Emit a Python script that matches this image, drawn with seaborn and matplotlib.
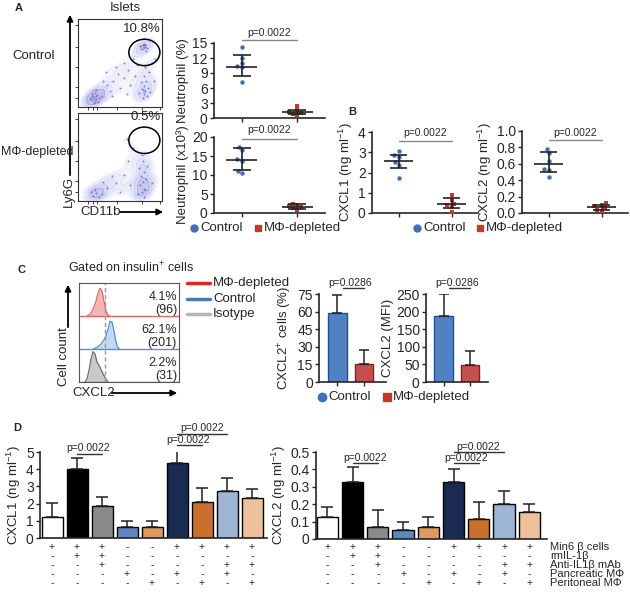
import pandas as pd
import seaborn as sns
import matplotlib.pyplot as plt
from matplotlib.patches import Ellipse, FancyArrowPatch
from matplotlib.lines import Line2D
from matplotlib.colors import LinearSegmentedColormap
from matplotlib.transforms import blended_transform_factory

sns.set_style("ticks")
plt.rcParams['font.family'] = ['Liberation Sans', 'DejaVu Sans']
plt.rcParams['mathtext.fontset'] = 'custom'
plt.rcParams['mathtext.rm'] = 'Liberation Sans'
plt.rcParams['mathtext.it'] = 'Liberation Sans:italic'

# ---- data ----
groups = ["Control", "MΦ-depleted"]
group_colors = ["#3f6fb5", "#c0392b"]

# panel A flow (CD11b vs Ly6G, box-normalised)
top_cd11b = [0.17, 0.19, 0.21, 0.20, 0.22, 0.18, 0.23, 0.16, 0.20, 0.25, 0.19, 0.24, 0.14, 0.21, 0.27, 0.17,
             0.78, 0.80, 0.82, 0.76, 0.79, 0.83, 0.77, 0.81, 0.78, 0.84, 0.75, 0.80, 0.86, 0.73,
             0.78, 0.80, 0.76, 0.82, 0.79, 0.77, 0.81, 0.74,
             0.35, 0.42, 0.48, 0.55, 0.60, 0.38, 0.50, 0.30, 0.62, 0.45, 0.65, 0.55, 0.68, 0.40, 0.58, 0.70,
             0.33, 0.90, 0.92, 0.88]
top_ly6g = [0.08, 0.10, 0.12, 0.07, 0.09, 0.13, 0.14, 0.11, 0.16, 0.10, 0.05, 0.06, 0.09, 0.19, 0.13, 0.15,
            0.15, 0.18, 0.12, 0.20, 0.24, 0.22, 0.10, 0.30, 0.35, 0.40, 0.28, 0.45, 0.17, 0.16,
            0.68, 0.70, 0.66, 0.67, 0.72, 0.70, 0.64, 0.69,
            0.25, 0.30, 0.38, 0.33, 0.42, 0.18, 0.22, 0.30, 0.25, 0.45, 0.55, 0.50, 0.35, 0.12, 0.15, 0.48,
            0.40, 0.30, 0.55, 0.50]
bot_cd11b = [0.76, 0.78, 0.74, 0.77, 0.80, 0.75, 0.79, 0.73, 0.77, 0.81, 0.72, 0.78, 0.82, 0.76,
             0.18, 0.22, 0.15, 0.25, 0.20, 0.28,
             0.35, 0.45, 0.55, 0.60, 0.50, 0.65, 0.40, 0.62, 0.88, 0.58, 0.30]
bot_ly6g = [0.10, 0.14, 0.18, 0.22, 0.12, 0.28, 0.33, 0.38, 0.45, 0.25, 0.08, 0.05, 0.40, 0.52,
            0.06, 0.09, 0.10, 0.05, 0.13, 0.08,
            0.15, 0.20, 0.30, 0.45, 0.10, 0.60, 0.28, 0.18, 0.20, 0.70, 0.22]

neut_pct_ctrl = [14.3, 12.0, 11.1, 10.5, 10.2, 7.3]
neut_pct_mac = [2.5, 1.6, 1.3, 1.1, 0.9, 0.7]
neut_pct_summary = [(10.3, 8.5, 12.7), (1.2, 0.9, 1.7)]
neut_cnt_ctrl = [17.5, 16.6, 14.2, 13.8, 11.0, 10.5]
neut_cnt_mac = [2.5, 2.2, 1.8, 1.5, 1.2, 0.9]
neut_cnt_summary = [(14.0, 11.2, 17.0), (1.7, 1.1, 2.3)]

# panel B
cxcl1_ctrl = [3.08, 2.85, 2.75, 2.5, 2.35, 1.75]
cxcl1_mac = [0.87, 0.65, 0.45, 0.38, 0.28, 0.05]
cxcl1_summary = [(2.58, 2.22, 2.85), (0.42, 0.26, 0.72)]
cxcl2_ctrl = [0.78, 0.73, 0.64, 0.54, 0.52, 0.44]
cxcl2_mac = [0.12, 0.10, 0.08, 0.06, 0.04, 0.03]
cxcl2_summary = [(0.60, 0.50, 0.74), (0.075, 0.04, 0.095)]

# panel C histograms (x = CXCL2 position in box, y = fraction of row)
hist_red_x = [8, 11, 14, 17, 19, 21, 23, 25, 27, 29, 31]
hist_red_y = [0, 0.05, 0.2, 0.45, 0.7, 0.84, 0.75, 0.45, 0.15, 0.02, 0]
hist_blue_x = [14, 18, 22, 25, 27, 29, 31, 33, 35, 37, 39, 41]
hist_blue_y = [0, 0.05, 0.15, 0.28, 0.4, 0.6, 0.84, 0.82, 0.55, 0.2, 0.03, 0]
hist_gray_x = [6, 8, 10, 12, 14, 16, 18, 21, 24, 27, 29]
hist_gray_y = [0, 0.1, 0.35, 0.7, 0.92, 0.85, 0.6, 0.45, 0.25, 0.08, 0]
hist_labels = [("4.1%", "(96)"), ("62.1%", "(201)"), ("2.2%", "(31)")]

cxcl2_pos_cells = [59, 15]
cxcl2_pos_err = [74, 27]
cxcl2_mfi = [188, 48]
cxcl2_mfi_err = [250, 87]

# panel D
conditions = ["Min6", "Min6+IL1b", "Min6+IL1b+mAb", "PanMΦ", "PerMΦ",
              "Min6+PanMΦ", "Min6+PerMΦ", "Min6+PanMΦ+mAb", "Min6+PerMΦ+mAb"]
d_colors = ["white", "black", "#8a8a8a", "#4f86d1", "#f39a4c",
            "#10285c", "#e56b12", "#95b3dc", "#f9c08f"]
d_cxcl1 = [1.25, 4.04, 1.87, 0.63, 0.63, 4.37, 2.08, 2.73, 2.31]
d_cxcl1_err = [2.02, 4.65, 2.37, 1.0, 0.96, 5.13, 2.88, 3.5, 2.85]
d_cxcl2 = [0.128, 0.328, 0.069, 0.052, 0.069, 0.328, 0.115, 0.20, 0.155]
d_cxcl2_err = [0.184, 0.414, 0.167, 0.098, 0.126, 0.402, 0.21, 0.275, 0.20]
table_rows = ["Min6 β cells", "rmIL-1β", "Anti-IL1β mAb", "Pancreatic MΦ", "Peritoneal MΦ"]
table_signs = ["+++--++++", "-++------", "--+----++", "---+-+-+-", "----+-+-+"]

# ---- figure ----
W, H = 630, 601
fig = plt.figure(figsize=(6.3, 6.01), dpi=100)


def px_axes(l, t, r, b):
    return fig.add_axes([l / W, 1 - b / H, (r - l) / W, (b - t) / H])


def ftext(x, y, s, **kw):
    kw.setdefault("fontsize", 9.5)
    fig.text(x / W, 1 - y / H, s, **kw)


def farrow(x0, y0, x1, y1):
    fig.add_artist(FancyArrowPatch((x0 / W, 1 - y0 / H), (x1 / W, 1 - y1 / H),
                                   transform=fig.transFigure, arrowstyle='-|>',
                                   mutation_scale=9, lw=1.3, color='black'))


def legend_row(y, x_ctrl, x_mac, msize=5):
    fig.add_artist(Line2D([x_ctrl / W], [1 - y / H], marker='o', ls='', markersize=msize,
                          color=group_colors[0], transform=fig.transFigure))
    ftext(x_ctrl + 6, y, "Control", va='center')
    fig.add_artist(Line2D([x_mac / W], [1 - y / H], marker='s', ls='', markersize=msize,
                          color=group_colors[1], transform=fig.transFigure))
    ftext(x_mac + 6, y, "MΦ-depleted", va='center')


def style_axes(ax):
    sns.despine(ax=ax)
    for s in ["left", "bottom"]:
        ax.spines[s].set_linewidth(1.2)
    ax.tick_params(labelsize=10, length=3, width=1, pad=1.5)
    ax.set_xlabel("")


def pval(ax, x0, x1, y, tx, ty, text="p=0.0022", lc="#888888"):
    ax.plot([x0, x1], [y, y], color=lc, lw=1, clip_on=False)
    ax.text(tx, ty, text, ha='center', va='bottom', fontsize=7.5)


cmap_top = LinearSegmentedColormap.from_list("flow_top", ["#ececfb", "#b3b6ee", "#6d72d8", "#c98a6a"])
cmap_bot = LinearSegmentedColormap.from_list("flow_bot", ["#ececfb", "#b3b6ee", "#6d72d8"])


def flow_panel(ax, xs, ys, label, ey, cmap):
    sns.kdeplot(x=xs, y=ys, fill=True, cmap=cmap, levels=6, thresh=0.15,
                bw_adjust=0.6, alpha=0.45, ax=ax)
    ax.scatter(xs, ys, s=2, color="#5a60d0", alpha=0.75, lw=0)
    ax.add_patch(Ellipse((0.79, ey), 0.37, 0.30, fill=False, lw=1.1, color='black'))
    ax.text(0.98, ey + 0.2, label, ha='right', va='bottom', fontsize=9.5)
    ax.set_xlim(0, 1)
    ax.set_ylim(0, 1)
    ax.set_xticks([0.12, 0.18, 0.23, 0.46, 0.76, 0.98])
    ax.set_yticks([0.10, 0.23, 0.45, 0.68, 0.93])
    ax.tick_params(labelleft=False, labelbottom=False, length=2, width=0.6)
    ax.set_xlabel("")
    ax.set_ylabel("")
    for s in ax.spines.values():
        s.set_linewidth(0.8)
        s.set_color("#333333")


def strip_panel(ax, ctrl, mac, summary, ymax, yticks, yticklabels, ylabel):
    df = pd.DataFrame({"group": [groups[0]] * len(ctrl) + [groups[1]] * len(mac),
                       "value": ctrl + mac})
    sns.swarmplot(data=df[df.group == groups[0]], x="group", y="value", order=groups,
                  color=group_colors[0], marker="o", size=3.2, ax=ax)
    sns.swarmplot(data=df[df.group == groups[1]], x="group", y="value", order=groups,
                  color=group_colors[1], marker="s", size=3.2, ax=ax)
    for i, (mid, lo, hi) in enumerate(summary):
        ax.hlines(mid, i - 0.28, i + 0.28, color="#222222", lw=1.2, zorder=5)
        ax.hlines([lo, hi], i - 0.16, i + 0.16, color="#222222", lw=1.2, zorder=5)
        ax.vlines(i, lo, hi, color="#222222", lw=1.2, zorder=5)
    ax.set_xlim(-0.5, 1.5)
    ax.set_ylim(0, ymax)
    ax.set_yticks(yticks)
    ax.set_yticklabels(yticklabels)
    style_axes(ax)
    ax.tick_params(labelbottom=False)
    ax.set_ylabel(ylabel, fontsize=9.5, labelpad=2)


# ---- panel A ----
ftext(15, 8, "A", fontweight='bold', fontsize=8, va='center')
ftext(125, 8, "Islets", ha='center', va='center')
ftext(34, 56, "Control", ha='center', va='center')
ftext(1, 152, "MΦ-depleted", ha='left', va='center', fontsize=9)

ax = px_axes(78, 19, 162, 107)
flow_panel(ax, top_cd11b, top_ly6g, "10.8%", 0.62, cmap_top)
ax = px_axes(78, 113, 162, 201)
flow_panel(ax, bot_cd11b, bot_ly6g, "0.5%", 0.69, cmap_bot)
farrow(70, 178, 70, 12)
ftext(69, 191, "Ly6G", rotation=90, ha='center', va='center')
ftext(80, 212, "CD11b", ha='left', va='center')
farrow(117, 212, 166, 212)

ax = px_axes(214, 43, 325, 118)
strip_panel(ax, neut_pct_ctrl, neut_pct_mac, neut_pct_summary, 15,
            [0, 3, 6, 9, 12, 15], ["0", "3", "6", "9", "12", "15"], "Neutrophil (%)")
pval(ax, 0, 1, 15.6, 0.5, 16.0)

ax = px_axes(214, 137, 325, 213)
strip_panel(ax, neut_cnt_ctrl, neut_cnt_mac, neut_cnt_summary, 20,
            [0, 5, 10, 15, 20], ["0", "5", "10", "15", "20"], "Neutrophil (x10³)")
pval(ax, 0, 1, 19.6, 0.5, 20.4)
legend_row(228, 194, 258)

# ---- panel B ----
ftext(348, 112, "B", fontweight='bold', fontsize=8, va='center')
ax = px_axes(372, 132, 478, 213)
strip_panel(ax, cxcl1_ctrl, cxcl1_mac, cxcl1_summary, 4,
            [0, 1, 2, 3, 4], ["0", "1", "2", "3", "4"], "CXCL1 (ng ml$^{-1}$)")
pval(ax, 0, 1, 3.55, 0.5, 3.68)

ax = px_axes(522, 131, 628, 213)
strip_panel(ax, cxcl2_ctrl, cxcl2_mac, cxcl2_summary, 1.0,
            [0, 0.2, 0.4, 0.6, 0.8, 1.0], ["0.0", "0.2", "0.4", "0.6", "0.8", "1.0"],
            "CXCL2 (ng ml$^{-1}$)")
pval(ax, 0, 1, 0.89, 0.5, 0.92)
legend_row(228, 417, 480)

# ---- panel C ----
ftext(17, 270, "C", fontweight='bold', fontsize=8, va='center')
ftext(68, 268, "Gated on insulin$^{+}$ cells", ha='left', va='center', fontsize=9)

ax = px_axes(79, 283, 179, 382)
hists = [(hist_red_x, hist_red_y, "#f5b5b5", "#e06666", 2),
         (hist_blue_x, hist_blue_y, "#c3d8f2", "#5b8fd0", 1),
         (hist_gray_x, hist_gray_y, "#c9c9c9", "#6e6e6e", 0)]
for (hx, hy, fc, lc, base), (pct, cnt) in zip(hists, hist_labels):
    ax.fill_between(hx, [base + v for v in hy], base, color=fc, lw=0)
    ax.plot(hx, [base + v for v in hy], color=lc, lw=0.9)
    ax.hlines(base, 0, 100, color=lc, lw=1)
    ax.text(98, base + 0.57, pct, ha='right', va='center', fontsize=9)
    ax.text(98, base + 0.18, cnt, ha='right', va='center', fontsize=9)
ax.axvline(26, color="#999999", lw=1, ls=(0, (3, 2)))
ax.set_xlim(0, 100)
ax.set_ylim(0, 3)
ax.set_xticks([])
ax.set_yticks([])
for s in ax.spines.values():
    s.set_linewidth(0.8)
    s.set_color("#555555")
farrow(68, 330, 68, 282)
ftext(64, 357, "Cell count", rotation=90, ha='center', va='center')
ftext(72, 393, "CXCL2", ha='left', va='center')
farrow(109, 393, 180, 393)

for i, (name, col) in enumerate(zip(["MΦ-depleted", "Control", "Isotype"],
                                    ["#e0252b", "#4a78b5", "#b5b5b5"])):
    y = 283 + i * 15.5
    fig.add_artist(Line2D([187 / W, 210 / W], [1 - y / H, 1 - y / H], color=col, lw=2.5,
                          transform=fig.transFigure))
    ftext(213, y, name, va='center')

c_colors = ["#3d7fd6", "#d83b3b"]
c_edges = ["#1f4f9a", "#8c1f1f"]


def bar_panel_c(ax, vals, errs, ymax, yticks, ylabel, xlim):
    sns.barplot(x=groups, y=vals, hue=groups, palette=c_colors, width=0.7, legend=False,
                linewidth=1, ax=ax)
    for patch, ec in zip(ax.patches, c_edges):
        patch.set_edgecolor(ec)
    ax.errorbar(range(2), vals, yerr=[[0, 0], [e - v for e, v in zip(errs, vals)]],
                fmt='none', ecolor='#222222', elinewidth=1.1, capsize=3.5, capthick=1.1, zorder=1)
    ax.set_xlim(*xlim)
    ax.set_ylim(0, ymax)
    ax.set_yticks(yticks)
    style_axes(ax)
    ax.tick_params(labelbottom=False)
    ax.set_ylabel(ylabel, fontsize=9.5, labelpad=2)


ax = px_axes(319, 294, 386, 382)
bar_panel_c(ax, cxcl2_pos_cells, cxcl2_pos_err, 75, [0, 15, 30, 45, 60, 75],
            "CXCL2$^{+}$ cells (%)", (-0.7, 1.84))
pval(ax, 0.2, 1.0, 80, 0.47, 80.5, "p=0.0286", lc="#333333")

ax = px_axes(426, 294, 488, 382)
bar_panel_c(ax, cxcl2_mfi, cxcl2_mfi_err, 250, [0, 50, 100, 150, 200, 250],
            "CXCL2 (MFI)", (-0.66, 1.67))
pval(ax, 0.2, 1.0, 267, 0.5, 268, "p=0.0286", lc="#333333")
legend_row(397, 322, 387, msize=6)

# ---- panel D ----
ftext(13, 428, "D", fontweight='bold', fontsize=8, va='center')
row_y = [547, 556, 565, 574, 583]


def bar_panel_d(ax, vals, errs, ymax, yticks, yticklabels, ylabel, xlim, pvals):
    sns.barplot(x=conditions, y=vals, hue=conditions, palette=d_colors, width=0.84,
                legend=False, edgecolor='black', linewidth=1, ax=ax)
    ax.errorbar(range(len(vals)), vals, yerr=[[0] * len(vals), [e - v for e, v in zip(errs, vals)]],
                fmt='none', ecolor='#222222', elinewidth=1.1, capsize=4, capthick=1.1, zorder=1)
    ax.set_xlim(*xlim)
    ax.set_ylim(0, ymax)
    ax.set_yticks(yticks)
    ax.set_yticklabels(yticklabels)
    style_axes(ax)
    ax.tick_params(axis='x', labelbottom=False, length=0)
    ax.set_ylabel(ylabel, fontsize=9.5, labelpad=2)
    trans = blended_transform_factory(ax.transData, fig.transFigure)
    for ry, signs in zip(row_y, table_signs):
        for i, s in enumerate(signs):
            ax.text(i, 1 - ry / H, s, transform=trans, ha='center', va='center', fontsize=7.5)
    for x0, x1, y, tx, ty in pvals:
        pval(ax, x0, x1, y, tx, ty, lc="#333333")


ax = px_axes(40, 452, 267, 538)
bar_panel_d(ax, d_cxcl1, d_cxcl1_err, 5, [0, 1, 2, 3, 4, 5], ["0", "1", "2", "3", "4", "5"],
            "CXCL1 (ng ml$^{-1}$)", (-0.48, 8.6),
            [(1, 2, 4.91, 1.44, 4.93), (5, 6, 5.38, 5.44, 5.40), (5, 7, 6.07, 6.0, 6.09)])

ax = px_axes(316, 452, 547, 539)
bar_panel_d(ax, d_cxcl2, d_cxcl2_err, 0.5, [0, 0.1, 0.2, 0.3, 0.4, 0.5],
            ["0", "0.1", "0.2", "0.3", "0.4", "0.5"], "CXCL2 (ng ml$^{-1}$)", (-0.45, 8.7),
            [(1, 2, 0.437, 1.5, 0.439), (5, 6, 0.437, 5.48, 0.439), (5, 7, 0.5, 5.99, 0.502)])
for ry, name in zip(row_y, table_rows):
    ftext(550, ry, name, ha='left', va='center', fontsize=8)

fig.savefig("out.png", dpi=100)
